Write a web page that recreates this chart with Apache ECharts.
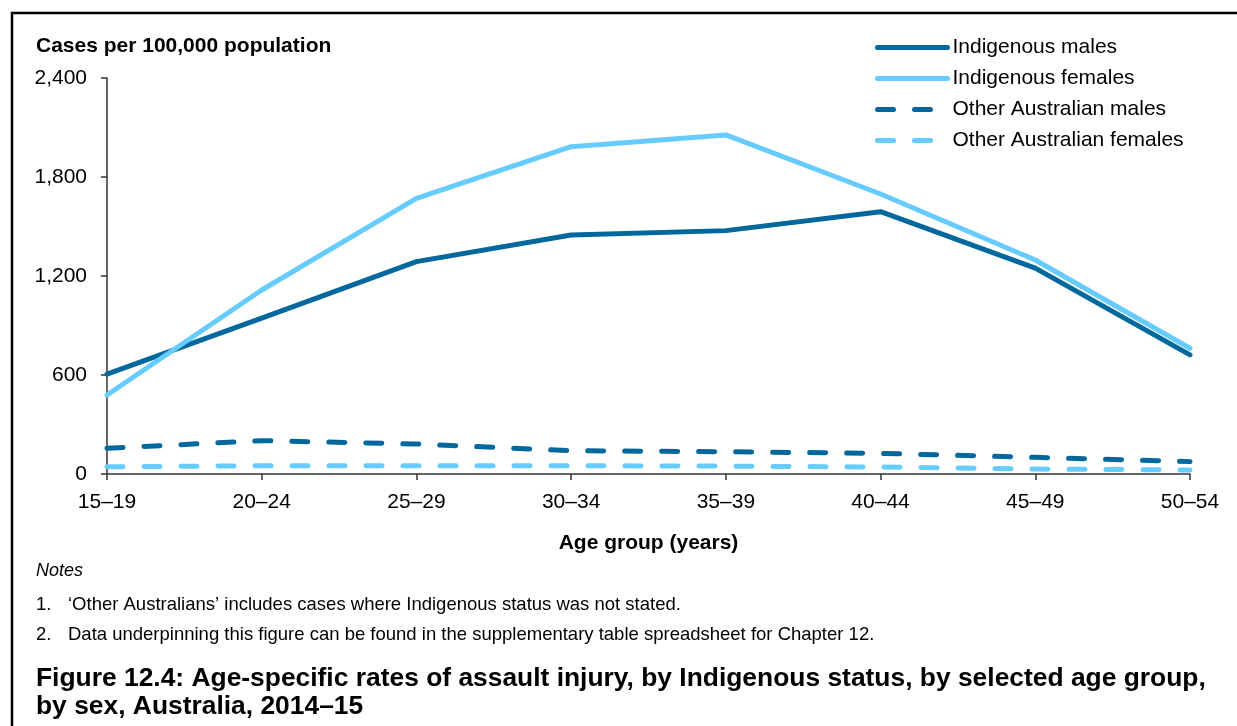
<!DOCTYPE html>
<html>
<head>
<meta charset="utf-8">
<script src="https://cdn.jsdelivr.net/npm/echarts@6/dist/echarts.min.js"></script>
<style>
  html, body { margin: 0; padding: 0; background: #fff; }
  #chart { width: 1237px; height: 726px; }
</style>
</head>
<body>
<div id="chart"></div>
<script>
// age groups on the x axis
var ageGroups = ['15–19', '20–24', '25–29', '30–34', '35–39', '40–44', '45–49', '50–54'];
// cases per 100,000 population
var indigenousMales = [605, 945, 1287, 1448, 1475, 1590, 1248, 722];
var indigenousFemales = [479, 1115, 1671, 1984, 2055, 1697, 1297, 762];
var otherMales = [156, 202, 182, 141, 135, 125, 101, 75];
var otherFemales = [44, 50, 50, 50, 48, 42, 30, 24];
var seriesNames = ['Indigenous males', 'Indigenous females', 'Other Australian males', 'Other Australian females'];

var dark = '#00689D';
var light = '#66CCFF';
var font = '"Liberation Sans", Arial, sans-serif';
var dash = [16, 21];

var chart = echarts.init(document.getElementById('chart'));

function lineStyleFor(color, dashed) {
  return {
    color: color,
    width: 5,
    type: dashed ? dash : 'solid',
    cap: 'round',
    join: 'round'
  };
}

function lineSeries(name, data, color, dashed) {
  return {
    name: name,
    type: 'line',
    data: data,
    symbol: 'none',
    silent: true,
    lineStyle: lineStyleFor(color, dashed),
    itemStyle: { color: color }
  };
}

var options = {
  animation: false,
  backgroundColor: '#fff',
  textStyle: { fontFamily: font },
  title: [
    {
      text: 'Cases per 100,000 population',
      left: 31, top: 31,
      textStyle: { fontFamily: font, fontSize: 21, fontWeight: 'bold', color: '#000' }
    },
    {
      text: 'Figure 12.4: Age-specific rates of assault injury, by Indigenous status, by selected age group,\nby sex, Australia, 2014–15',
      left: 31, top: 660,
      textStyle: { fontFamily: font, fontSize: 26.4, fontWeight: 'bold', color: '#000', lineHeight: 28 }
    }
  ],
  legend: {
    data: [
      { name: seriesNames[0], lineStyle: lineStyleFor(dark, false) },
      { name: seriesNames[1], lineStyle: lineStyleFor(light, false) },
      { name: seriesNames[2], lineStyle: lineStyleFor(dark, true) },
      { name: seriesNames[3], lineStyle: lineStyleFor(light, true) }
    ],
    orient: 'vertical',
    left: 875, top: 37,
    padding: 0,
    itemWidth: 70,
    itemHeight: 20,
    itemGap: 10,
    itemStyle: { opacity: 0 },
    textStyle: { fontFamily: font, fontSize: 21, color: '#000' }
  },
  grid: { left: 107, right: 47, top: 78, bottom: 252, containLabel: false },
  xAxis: {
    type: 'category',
    data: ageGroups,
    boundaryGap: false,
    name: 'Age group (years)',
    nameLocation: 'middle',
    nameGap: 59,
    nameTextStyle: { fontFamily: font, fontSize: 21, fontWeight: 'bold', color: '#000' },
    axisLine: { lineStyle: { color: '#333', width: 1.5 } },
    axisTick: { show: true, length: 6, lineStyle: { color: '#333', width: 1.5 } },
    axisLabel: { fontFamily: font, fontSize: 21, color: '#000', margin: 18 },
    splitLine: { show: false }
  },
  yAxis: {
    type: 'value',
    min: 0, max: 2400, interval: 600,
    axisLine: { show: true, lineStyle: { color: '#333', width: 1.5 } },
    axisTick: { show: true, length: 6, lineStyle: { color: '#333', width: 1.5 } },
    axisLabel: {
      fontFamily: font, fontSize: 21, color: '#000', margin: 20,
      formatter: function (v) { return v.toLocaleString('en-US'); }
    },
    splitLine: { show: false }
  },
  series: [
    lineSeries(seriesNames[0], indigenousMales, dark, false),
    lineSeries(seriesNames[1], indigenousFemales, light, false),
    lineSeries(seriesNames[2], otherMales, dark, true),
    lineSeries(seriesNames[3], otherFemales, light, true)
  ],
  graphic: [
    {
      type: 'rect',
      shape: { x: 12, y: 13, width: 1400, height: 900 },
      style: { fill: null, stroke: '#000', lineWidth: 2.5 },
      silent: true
    },
    {
      type: 'text', left: 36, top: 562,
      style: { text: 'Notes', font: 'italic 18px ' + font, fill: '#000' }
    },
    {
      type: 'text', left: 36, top: 595,
      style: { text: '1.', font: '18.5px ' + font, fill: '#000' }
    },
    {
      type: 'text', left: 68, top: 595,
      style: { text: '‘Other Australians’ includes cases where Indigenous status was not stated.', font: '18.5px ' + font, fill: '#000' }
    },
    {
      type: 'text', left: 36, top: 625,
      style: { text: '2.', font: '18.5px ' + font, fill: '#000' }
    },
    {
      type: 'text', left: 68, top: 625,
      style: { text: 'Data underpinning this figure can be found in the supplementary table spreadsheet for Chapter 12.', font: '18.5px ' + font, fill: '#000' }
    }
  ]
};

chart.setOption(options);
</script>
</body>
</html>
